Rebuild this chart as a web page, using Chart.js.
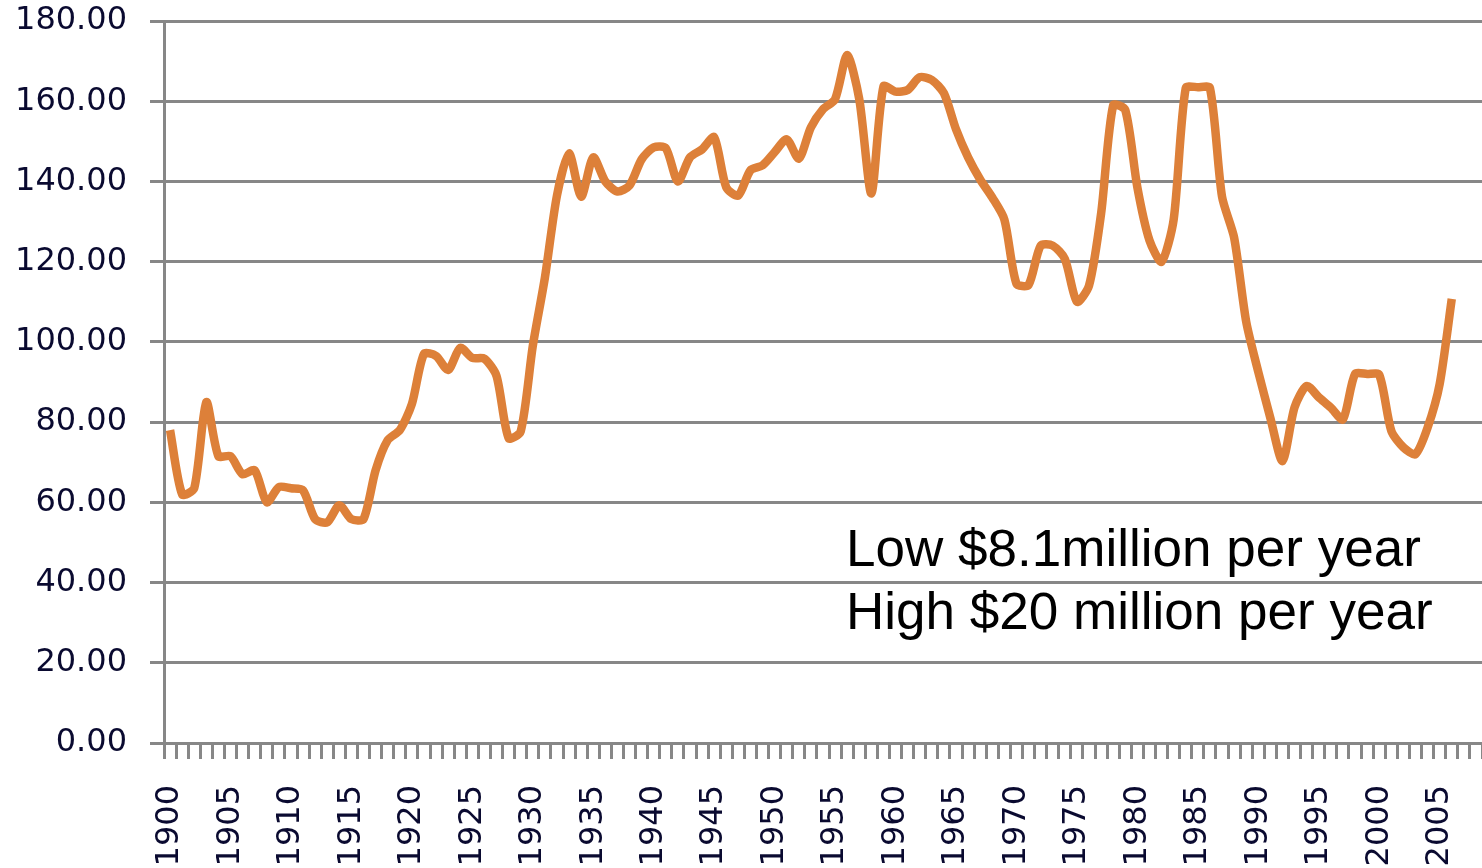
<!DOCTYPE html>
<html>
<head>
<meta charset="utf-8">
<title>Chart</title>
<script src="https://cdn.jsdelivr.net/npm/chart.js@4/dist/chart.umd.min.js"></script>
<style>
    html, body { margin: 0; padding: 0; background: #fff; }
    #wrap { position: relative; width: 1482px; height: 868px; }
</style>
</head>
<body>
<div id="wrap"><canvas id="chart"></canvas></div>
<script>
// years on the category axis (axis runs one step past the last value)
const firstYear = 1900;
const lastYear = 2008;
const years = [];
for (let y = firstYear; y <= lastYear; y++) years.push(String(y));

// series, 1900 - 2006
const values = [
    78, 62, 63.5, 85, 71.5, 71.5, 67, 68, 60, 63.8,
    63.5, 63, 55.8, 55, 59.3, 55.8, 55.8, 68, 75.5, 78,
    84.5, 97, 96.5, 93, 98.5, 96, 95.8, 91.5, 76, 77.7,
    99, 116, 136.5, 147, 136.2, 146, 140, 137.5, 139, 145.5,
    148.5, 148.3, 140, 146, 148, 151, 138.5, 136.5, 142.8, 144,
    147.3, 150.5, 145.7, 153.5, 158, 160.5, 171.5, 160.5, 137, 163.7,
    162.4, 162.8, 166, 165.3, 162, 153, 146, 140.5, 136, 130.5,
    114.5, 114.2, 124, 124, 120.7, 110, 114, 132, 159, 157.8,
    138.5, 125.3, 120, 130.5, 163.3, 163.5, 163.3, 136.2, 126, 105,
    92.5, 81, 70.3, 83.7, 89, 86.2, 83.6, 80.7, 92, 92,
    91.8, 77.8, 73.7, 72, 78.6, 89.5, 110.7
];

const yMin = 0;
const yMax = 180;
const yStep = 20;

const noteLines = ['Low $8.1million per year', 'High $20 million per year'];

const GRID = '#878787';
const LINE = '#dd8039';
const TICK_TEXT = '#0a0a30';

document.addEventListener('DOMContentLoaded', () => {

    const ctx = document.getElementById('chart');

    // two-line text box in the lower right
    const notePlugin = {
        id: 'note',
        afterDatasetsDraw(chart) {
            const c = chart.ctx;
            const area = chart.chartArea;
            c.save();
            c.fillStyle = '#000';
            c.font = '51px "Liberation Sans", Arial, sans-serif';
            c.textBaseline = 'alphabetic';
            noteLines.forEach((t, i) => {
                c.save();
                c.translate(area.left + 682, area.top + 545 + i * 63);
                c.scale(1.04, 1);
                c.fillText(t, 0, 0);
                c.restore();
            });
            c.restore();
        }
    };

    new Chart(ctx, {
        type: 'line',
        data: {
            labels: years,
            datasets: [{
                data: values,
                borderColor: LINE,
                borderWidth: 8.5,
                tension: 0.25,
                pointRadius: 0,
                fill: false
            }]
        },
        options: {
            responsive: true,
            maintainAspectRatio: false,
            animation: false,
            layout: { padding: 0 },
            plugins: {
                legend: { display: false },
                tooltip: { enabled: false }
            },
            scales: {
                x: {
                    type: 'category',
                    offset: true,
                    grid: {
                        offset: true,
                        drawOnChartArea: false,
                        drawTicks: true,
                        tickLength: 16,
                        tickWidth: 3,
                        tickColor: GRID,
                        color: GRID
                    },
                    border: { display: true, color: GRID, width: 3 },
                    ticks: {
                        autoSkip: false,
                        minRotation: 90,
                        maxRotation: 90,
                        padding: 26,
                        color: TICK_TEXT,
                        font: { family: '"DejaVu Sans", Verdana, sans-serif', size: 32 },
                        callback: (v, i) => (i % 5 === 0 ? years[i] : '')
                    },
                    afterFit: (scale) => {
                        scale.height = 125;
                        scale.paddingLeft = 0;
                        scale.paddingRight = 0;
                    }
                },
                y: {
                    min: yMin,
                    max: yMax,
                    grid: {
                        color: GRID,
                        lineWidth: 3,
                        tickLength: 14,
                        tickWidth: 3,
                        tickColor: GRID
                    },
                    border: { display: true, color: GRID, width: 3 },
                    ticks: {
                        stepSize: yStep,
                        padding: 23,
                        color: TICK_TEXT,
                        font: { family: '"DejaVu Sans", Verdana, sans-serif', size: 32 },
                        callback: (v) => Number(v).toFixed(2)
                    },
                    afterFit: (scale) => {
                        scale.width = 164;
                        scale.paddingTop = 21;
                        scale.paddingBottom = 0;
                    }
                }
            }
        },
        plugins: [notePlugin]
    });
});
</script>
</body>
</html>
